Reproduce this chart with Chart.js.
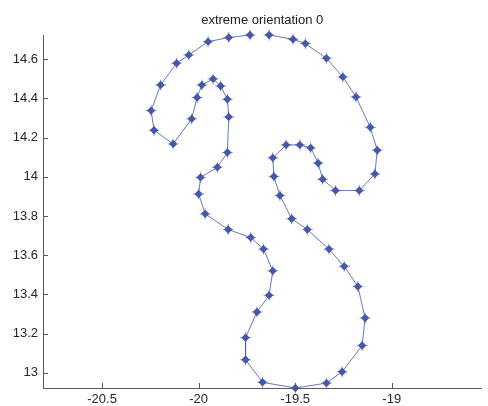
<!DOCTYPE html>
<html>
<head>
<meta charset="utf-8">
<script src="https://cdn.jsdelivr.net/npm/chart.js@4/dist/chart.umd.min.js"></script>
<style>
  html, body { margin: 0; padding: 0; background: #fff; }
  #wrap { width: 488px; height: 406px; }
</style>
</head>
<body>
<div id="wrap"><canvas id="orientChart"></canvas></div>
<script>
// curve points (open curve, gap at the top)
const xVals = [
  -19.734, -19.844, -19.951, -20.051, -20.114, -20.197, -20.246, -20.231, -20.132, -20.036,
  -20.008, -19.983, -19.925, -19.886, -19.851, -19.844, -19.851, -19.903, -19.990, -20.000,
  -19.966, -19.847, -19.730, -19.664, -19.616, -19.635, -19.698, -19.757, -19.757, -19.669,
  -19.499, -19.338, -19.257, -19.153, -19.138, -19.175, -19.246, -19.325, -19.437, -19.518,
  -19.579, -19.610, -19.616, -19.547, -19.476, -19.420, -19.381, -19.358, -19.291, -19.168,
  -19.087, -19.075, -19.111, -19.185, -19.253, -19.338, -19.447, -19.511, -19.635
];
const yVals = [
  14.724, 14.711, 14.690, 14.622, 14.580, 14.469, 14.338, 14.238, 14.168, 14.296,
  14.405, 14.469, 14.500, 14.464, 14.396, 14.306, 14.124, 14.049, 13.997, 13.912,
  13.811, 13.731, 13.690, 13.631, 13.520, 13.395, 13.310, 13.179, 13.066, 12.951,
  12.922, 12.947, 13.005, 13.139, 13.279, 13.440, 13.543, 13.631, 13.731, 13.786,
  13.905, 14.002, 14.097, 14.163, 14.163, 14.148, 14.070, 13.988, 13.930, 13.930,
  14.015, 14.136, 14.253, 14.408, 14.510, 14.605, 14.680, 14.702, 14.724
];

const xTicks = [-20.5, -20, -19.5, -19];
const yTicks = [13, 13.2, 13.4, 13.6, 13.8, 14, 14.2, 14.4, 14.6];

const points = xVals.map((x, i) => ({ x: x, y: yVals[i] }));

const axisColor = '#5a5a5a';
const markColor = '#4858a8';

// matlab style ticks pointing into the plot
const innerTicks = {
  id: 'innerTicks',
  afterDraw(chart) {
    const ctx = chart.ctx;
    const xs = chart.scales.x, ys = chart.scales.y;
    ctx.save();
    ctx.strokeStyle = axisColor;
    ctx.lineWidth = 1;
    ctx.beginPath();
    xs.ticks.forEach(t => {
      const px = Math.round(xs.getPixelForValue(t.value)) + 0.5;
      ctx.moveTo(px, xs.top);
      ctx.lineTo(px, xs.top - 5);
    });
    ys.ticks.forEach(t => {
      const py = Math.round(ys.getPixelForValue(t.value)) + 0.5;
      ctx.moveTo(ys.right, py);
      ctx.lineTo(ys.right + 5, py);
    });
    ctx.stroke();
    ctx.restore();
  }
};

const ctx = document.getElementById('orientChart').getContext('2d');
const chart = new Chart(ctx, {
  type: 'scatter',
  data: {
    datasets: [{
      data: points,
      showLine: true,
      borderColor: 'rgba(70, 88, 170, 0.8)',
      borderWidth: 1,
      pointStyle: 'rectRot',
      pointRadius: 4.2,
      pointBackgroundColor: markColor,
      pointBorderWidth: 0,
      clip: false
    }, {
      data: points,
      showLine: false,
      pointStyle: 'cross',
      pointRadius: 5.5,
      pointBorderColor: 'rgba(74, 90, 171, 0.6)',
      pointBorderWidth: 1,
      clip: false
    }]
  },
  options: {
    responsive: true,
    maintainAspectRatio: false,
    animation: false,
    events: [],
    layout: { padding: { right: 1 } },
    plugins: {
      legend: { display: false },
      tooltip: { enabled: false },
      title: {
        display: true,
        fullSize: false,
        text: 'extreme orientation 0',
        color: '#222',
        font: { family: 'Liberation Sans, Arial, sans-serif', size: 13, weight: 'normal' },
        padding: { top: 13, bottom: 6.4 }
      }
    },
    scales: {
      x: {
        type: 'linear',
        min: -20.806,
        max: -18.535,
        grid: { display: false, drawTicks: false },
        border: { display: true, color: axisColor, width: 1 },
        ticks: {
          padding: 4,
          color: '#262626',
          font: { family: 'Liberation Sans, Arial, sans-serif', size: 13 },
          callback: v => String(v)
        },
        afterBuildTicks: s => { s.ticks = xTicks.map(v => ({ value: v })); },
        afterFit: s => { s.height = 18; }
      },
      y: {
        type: 'linear',
        min: 12.922,
        max: 14.724,
        grid: { display: false, drawTicks: false },
        border: { display: true, color: axisColor, width: 1 },
        ticks: {
          padding: 5,
          color: '#262626',
          font: { family: 'Liberation Sans, Arial, sans-serif', size: 13 },
          callback: v => String(v)
        },
        afterBuildTicks: s => { s.ticks = yTicks.map(v => ({ value: v })); },
        afterFit: s => { s.width = 43; }
      }
    }
  },
  plugins: [innerTicks]
});
</script>
</body>
</html>
